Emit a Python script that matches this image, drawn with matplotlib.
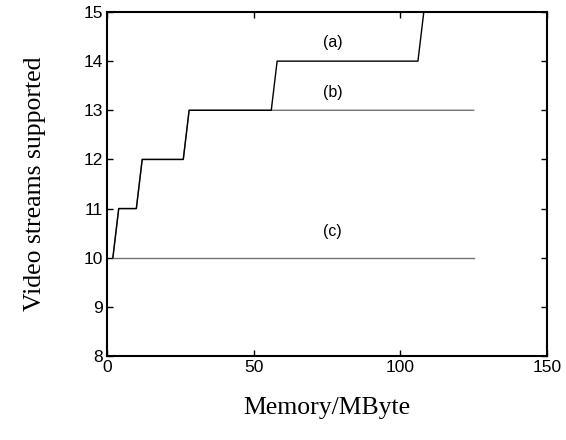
import matplotlib
matplotlib.use('Agg')
import matplotlib.pyplot as plt

# memory (MB) vs number of video streams
mem_a = [2, 4, 10, 12, 26, 28, 56, 58, 106, 108, 125]
streams_a = [10, 11, 11, 12, 12, 13, 13, 14, 14, 15, 15]
mem_b = [2, 4, 10, 12, 26, 28, 125]
streams_b = [10, 11, 11, 12, 12, 13, 13]
mem_c = [2, 125]
streams_c = [10, 10]

curve_labels = ['(a)', '(b)', '(c)']
label_pos = [(77, 14.37), (77, 13.37), (77, 10.54)]

x_ticks = [0, 50, 100, 150]
y_ticks = [8, 9, 10, 11, 12, 13, 14, 15]

plt.rcParams['font.family'] = 'Liberation Sans'

fig = plt.figure(figsize=(5.66, 4.40), dpi=100)
ax = fig.add_axes([107/566, 1 - 356/440, 440/566, 344/440])

ax.plot(mem_c, streams_c, color='0.45', lw=1.0)
ax.plot(mem_b, streams_b, color='0.45', lw=1.0)
ax.plot(mem_a, streams_a, color='black', lw=1.0)

for lab, (x, y) in zip(curve_labels, label_pos):
    ax.text(x, y, lab, ha='center', va='center', fontsize=11.5)

ax.set_xlim(0, 150)
ax.set_ylim(8, 15)
ax.set_xticks(x_ticks)
ax.set_yticks(y_ticks)
ax.tick_params(direction='in', length=4, width=1, top=True, right=True,
               labelsize=12.5, pad=3)
for s in ax.spines.values():
    s.set_linewidth(1.5)

ax.set_xlabel('Memory/MByte', family='Liberation Serif', fontsize=18.5, labelpad=16)
ax.set_ylabel('Video streams supported', family='Liberation Serif', fontsize=18.5, labelpad=27)

fig.savefig('out.png', dpi=100)
